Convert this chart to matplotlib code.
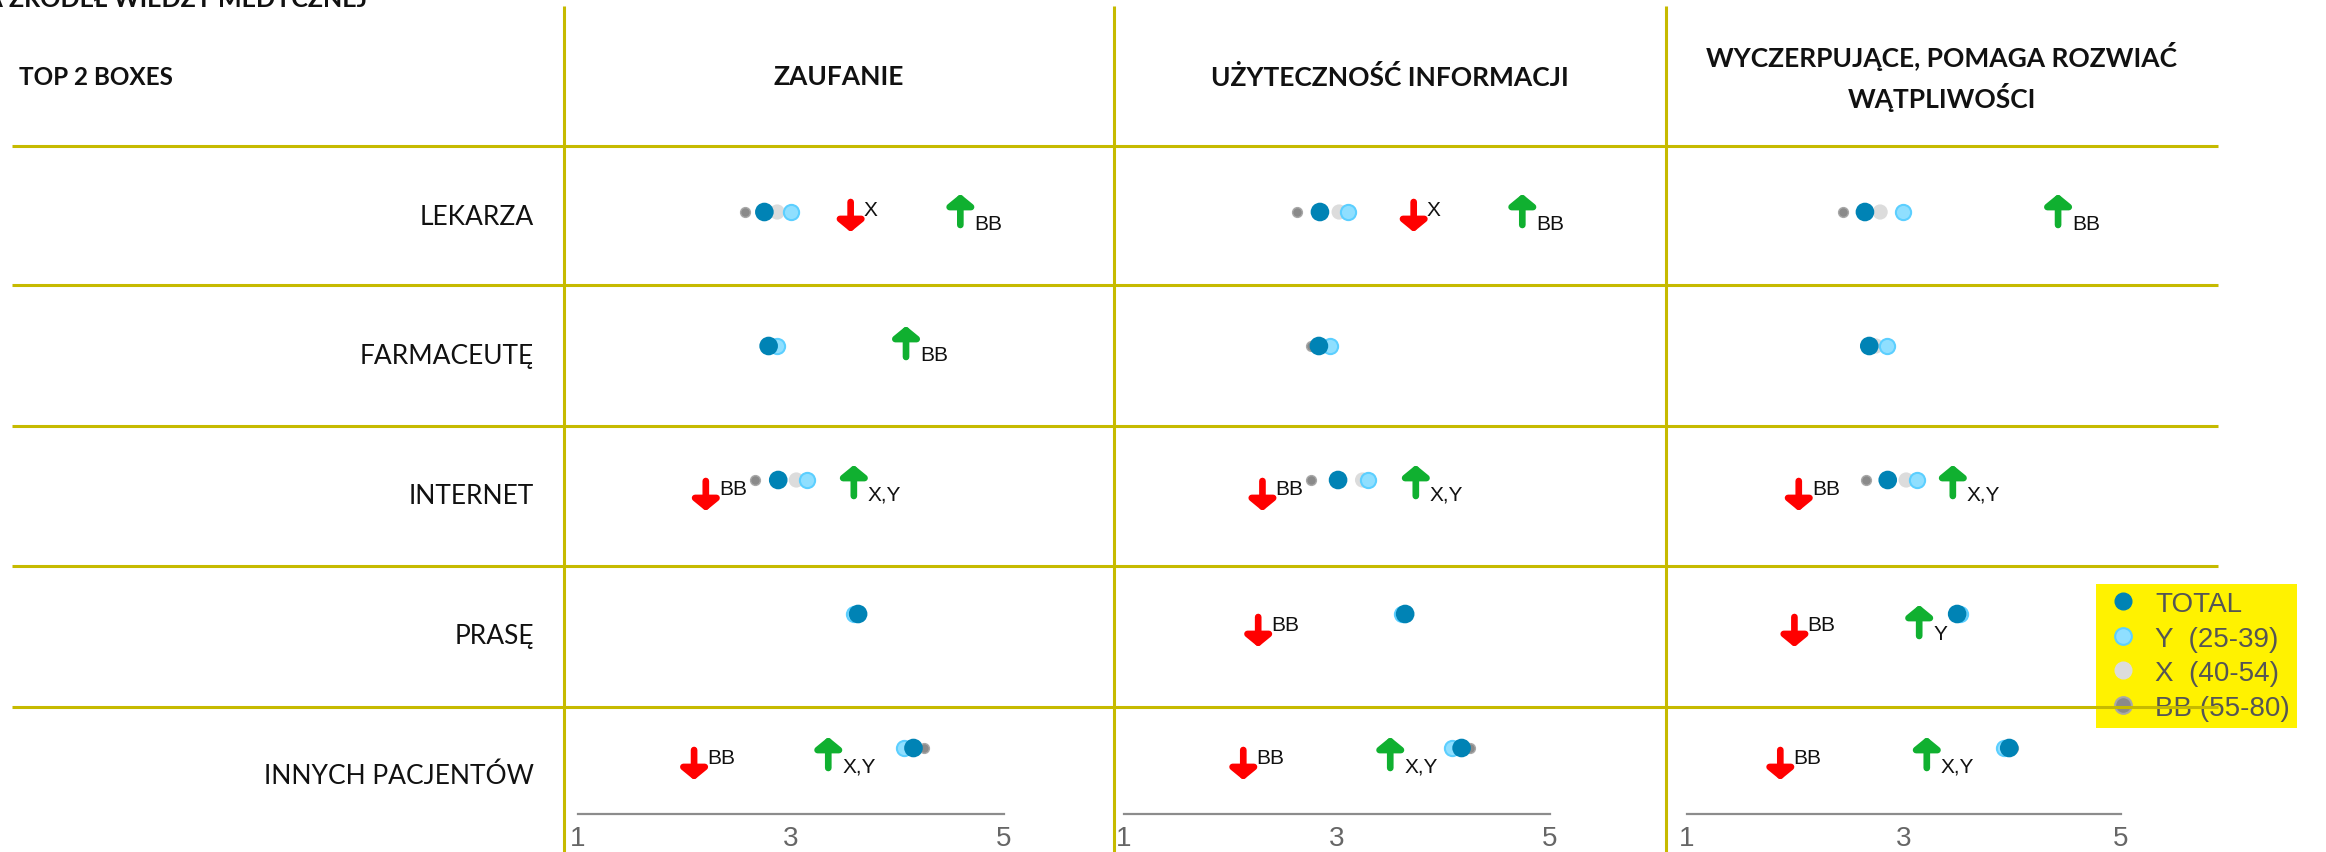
import matplotlib; matplotlib.use("Agg")
import matplotlib.pyplot as plt
from matplotlib.patches import FancyArrowPatch
from matplotlib.lines import Line2D

W, H = 2326, 853
fig = plt.figure(figsize=(W/100, H/100), dpi=100)

# ---- data ----
rows = ["LEKARZA", "FARMACEUTĘ", "INTERNET", "PRASĘ", "INNYCH PACJENTÓW"]
panels = ["ZAUFANIE", "UŻYTECZNOŚĆ INFORMACJI", "WYCZERPUJĄCE, POMAGA ROZWIAĆ\nWĄTPLIWOŚCI"]
series = ["TOTAL", "Y  (25-39)", "X  (40-54)", "BB (55-80)"]

zaufanie_total = [2.75, 2.79, 2.88, 3.63, 4.15]
zaufanie_y     = [3.00, 2.87, 3.15, 3.59, 4.06]
zaufanie_x     = [2.87, 2.82, 3.05, 3.62, 4.13]
zaufanie_bb    = [2.57, 2.78, 2.66, 3.63, 4.25]

uzytecznosc_total = [2.84, 2.83, 3.01, 3.64, 4.17]
uzytecznosc_y     = [3.10, 2.93, 3.29, 3.61, 4.08]
uzytecznosc_x     = [3.02, 2.86, 3.24, 3.63, 4.14]
uzytecznosc_bb    = [2.62, 2.76, 2.76, 3.65, 4.25]

wyczerp_total = [2.64, 2.68, 2.85, 3.49, 3.97]
wyczerp_y     = [2.99, 2.84, 3.12, 3.52, 3.92]
wyczerp_x     = [2.78, 2.74, 3.02, 3.50, 3.97]
wyczerp_bb    = [2.44, 2.65, 2.65, 3.49, 4.00]

# significance arrows: (row, x, direction, label)
zaufanie_arrows = [(0, 3.56, "down", "X"), (0, 4.59, "up", "BB"), (1, 4.08, "up", "BB"),
                   (2, 2.20, "down", "BB"), (2, 3.59, "up", "X,Y"),
                   (4, 2.09, "down", "BB"), (4, 3.35, "up", "X,Y")]
uzytecznosc_arrows = [(0, 3.72, "down", "X"), (0, 4.74, "up", "BB"),
                      (2, 2.30, "down", "BB"), (2, 3.74, "up", "X,Y"),
                      (3, 2.26, "down", "BB"),
                      (4, 2.12, "down", "BB"), (4, 3.50, "up", "X,Y")]
wyczerp_arrows = [(0, 4.42, "up", "BB"),
                  (2, 2.03, "down", "BB"), (2, 3.45, "up", "X,Y"),
                  (3, 1.99, "down", "BB"), (3, 3.14, "up", "Y"),
                  (4, 1.86, "down", "BB"), (4, 3.21, "up", "X,Y")]

panel_data = [(zaufanie_total, zaufanie_y, zaufanie_x, zaufanie_bb, zaufanie_arrows),
              (uzytecznosc_total, uzytecznosc_y, uzytecznosc_x, uzytecznosc_bb, uzytecznosc_arrows),
              (wyczerp_total, wyczerp_y, wyczerp_x, wyczerp_bb, wyczerp_arrows)]

# ---- style ----
YEL = "#C6BA00"
C_TOT, C_Y, C_X, C_BB = "#0083B5", "#8FDFFF", "#DCDCDC", "#8A8A8A"
RED, GREEN = "#FF0000", "#10B030"
SANS = "Liberation Sans"
CAL = "Lato"

panel_px = [(578, 1004), (1124, 1550), (1687, 2121)]
AX_BOTTOM = 815
dot_y = [213 + 134*i for i in range(len(rows))]
red_off = [-10, 0, 1, 3, 2]
green_off = [-18, -20, -15, -9, -11]

def arrow(ax, x, y0, y1, color):
    ax.add_patch(FancyArrowPatch((x, y0), (x, y1), arrowstyle="-|>,head_width=0.55,head_length=0.45",
                                 mutation_scale=14, lw=4.8, color=color, capstyle="round",
                                 joinstyle="round", shrinkA=0, shrinkB=0, zorder=5, clip_on=False))

for (l, r), (tot, yv, xv, bb, arrs) in zip(panel_px, panel_data):
    ax = fig.add_axes([l/W, (H-AX_BOTTOM)/H, (r-l)/W, AX_BOTTOM/H])
    ax.set_xlim(1, 5); ax.set_ylim(AX_BOTTOM, 0)
    ax.patch.set_visible(False)
    for s in ("top", "left", "right"): ax.spines[s].set_visible(False)
    ax.spines["bottom"].set_color("#8C8C8C"); ax.spines["bottom"].set_linewidth(1.6)
    ax.set_xticks([1, 3, 5]); ax.set_yticks([])
    ax.tick_params(axis="x", length=0, pad=8, labelsize=20, labelcolor="#666666")
    for t in ax.get_xticklabels(): t.set_family(SANS)
    ax.scatter(bb, dot_y, s=50, c=C_BB, edgecolors="#A8A8A8", linewidths=1, zorder=2, clip_on=False)
    ax.scatter(xv, dot_y, s=120, c=C_X, edgecolors="none", zorder=2.1, clip_on=False)
    ax.scatter(yv, dot_y, s=120, c=C_Y, edgecolors="#5CCFFF", linewidths=1.5, zorder=2.2, clip_on=False)
    ax.scatter(tot, dot_y, s=180, c=C_TOT, edgecolors="none", zorder=2.3, clip_on=False)
    for row, x, d, lab in arrs:
        if d == "down":
            top = dot_y[row] + red_off[row]
            arrow(ax, x, top, top + 30, RED)
            ax.annotate(lab, (x, top), xytext=(13, -8), textcoords="offset pixels", ha="left",
                        va="center", fontsize=15, family=SANS, color="#111")
        else:
            tip = dot_y[row] + green_off[row]
            arrow(ax, x, tip + 31, tip, GREEN)
            ax.annotate(lab, (x, tip + 31), xytext=(14, 2), textcoords="offset pixels", ha="left",
                        va="center", fontsize=15, family=SANS, color="#111")

# legend
handles = [Line2D([], [], marker="o", ls="", ms=12, mfc=C_TOT, mec=C_TOT),
           Line2D([], [], marker="o", ls="", ms=12, mfc=C_Y, mec="#5CCFFF", mew=1.5),
           Line2D([], [], marker="o", ls="", ms=12, mfc=C_X, mec=C_X),
           Line2D([], [], marker="o", ls="", ms=12, mfc=C_BB, mec="#A8A8A8", mew=1.5)]
fig.legend(handles, series, loc="upper left", bbox_to_anchor=(2096/W, 1-585/H), frameon=True,
           facecolor="#FFF200", edgecolor="none", fancybox=False, framealpha=1,
           prop={"family": SANS, "size": 20}, labelcolor="#555555", handlelength=1.44,
           handletextpad=0.43, borderpad=0.25, labelspacing=0.31, borderaxespad=0)

# ---- grid lines and labels ----
ov = fig.add_axes([0, 0, 1, 1], zorder=10)
ov.set_xlim(0, W); ov.set_ylim(H, 0); ov.axis("off")
for y in (147, 286, 427, 567, 708):
    ov.plot([12, 2218], [y, y], color=YEL, lw=2.2, solid_capstyle="butt")
for x in (564, 1114, 1666):
    ov.plot([x, x], [7, H], color=YEL, lw=2.2, solid_capstyle="butt")

ov.text(367, 7, "OCENA ŹRÓDEŁ WIEDZY MEDYCZNEJ", ha="right", va="baseline", fontsize=18,
        fontweight="bold", family=CAL, color="#111")
ov.text(19, 77, "TOP 2 BOXES", ha="left", va="center", fontsize=17.5, fontweight="bold", family=CAL, color="#111")
for cx, title in zip((839, 1390, 1942), panels):
    ov.text(cx, 77, title, ha="center", va="center", fontsize=19, fontweight="bold", family=CAL,
            color="#111", linespacing=1.45)
for i, lab in enumerate(rows):
    ov.text(534, 217 + 139.7*i, lab, ha="right", va="center", fontsize=19, family=CAL, color="#111")

fig.savefig("out.png", dpi=100)
